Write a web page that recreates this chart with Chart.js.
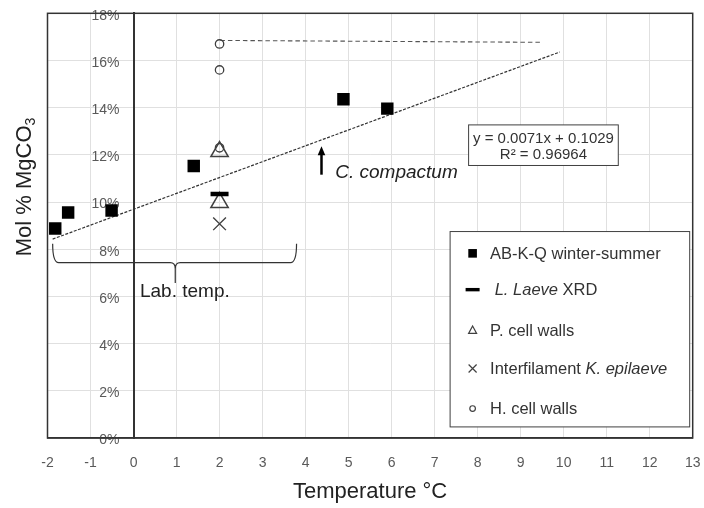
<!DOCTYPE html>
<html>
<head>
<meta charset="utf-8">
<script src="https://cdn.jsdelivr.net/npm/chart.js@4.4.1/dist/chart.umd.min.js"></script>
<style>
  html, body { margin: 0; padding: 0; background: #fff; }
</style>
</head>
<body>
<canvas id="chart" width="704" height="508"></canvas>
<script>
const FONT = '"Liberation Sans", Arial, sans-serif';

// tick values along both axes
const xTickValues = [-2, -1, 0, 1, 2, 3, 4, 5, 6, 7, 8, 9, 10, 11, 12, 13];
const yTickValues = [0, 2, 4, 6, 8, 10, 12, 14, 16, 18];
const yTickLabels = ['0%', '2%', '4%', '6%', '8%', '10%', '12%', '14%', '16%', '18%'];

// AB-K-Q winter-summer (temperature °C, mol % MgCO3)
const abkqTemp = [-1.82, -1.52, -0.51, 1.4, 4.88, 5.9];
const abkqMg = [8.88, 9.56, 9.64, 11.53, 14.36, 13.96];

// L. Laeve XRD
const laeveTemp = [2];
const laeveMg = [10.34];

// P. cell walls
const pWallTemp = [2, 2];
const pWallMg = [12.14, 9.98];

// Interfilament K. epilaeve
const interTemp = [2];
const interMg = [9.08];

// H. cell walls
const hWallTemp = [2, 2, 2];
const hWallMg = [16.7, 15.6, 12.3];

// linear trendline as drawn, and dashed guide from the top H. cell wall value
const trendTemp = [-1.88, 9.91];
const trendMg = [8.43, 16.36];
const guideTemp = [2.02, 9.48];
const guideMg = [16.85, 16.77];

const toPoints = (xs, ys) => xs.map((x, i) => ({ x, y: ys[i] }));

function marker(ctx, style, x, y) {
  ctx.save();
  ctx.beginPath();
  if (style === 'rect') {
    ctx.fillStyle = '#000';
    ctx.fillRect(x - 4.3, y - 4.3, 8.6, 8.6);
  } else if (style === 'line') {
    ctx.fillStyle = '#000';
    ctx.fillRect(x - 7, y - 1.7, 14, 3.4);
  } else if (style === 'triangle') {
    ctx.strokeStyle = '#404040';
    ctx.lineWidth = 1.2;
    ctx.moveTo(x, y - 4.5);
    ctx.lineTo(x + 4, y + 2.8);
    ctx.lineTo(x - 4, y + 2.8);
    ctx.closePath();
    ctx.stroke();
  } else if (style === 'crossRot') {
    ctx.strokeStyle = '#404040';
    ctx.lineWidth = 1.2;
    ctx.moveTo(x - 4, y - 4); ctx.lineTo(x + 4, y + 4);
    ctx.moveTo(x + 4, y - 4); ctx.lineTo(x - 4, y + 4);
    ctx.stroke();
  } else {
    ctx.strokeStyle = '#404040';
    ctx.lineWidth = 1.2;
    ctx.arc(x, y, 2.8, 0, Math.PI * 2);
    ctx.stroke();
  }
  ctx.restore();
}

// each legend row: marker, then text pieces [text, italic]
const legendRows = [
  ['rect', [['AB-K-Q winter-summer', false]]],
  ['line', [[' ', false], ['L. Laeve', true], [' XRD', false]]],
  ['triangle', [['P. cell walls', false]]],
  ['crossRot', [['Interfilament ', false], ['K. epilaeve', true]]],
  ['circle', [['H. cell walls', false]]]
];
const legendRowY = [22.8, 59.1, 100, 138, 178];

const overlay = {
  id: 'overlay',
  afterDraw(chart) {
    const { ctx, chartArea: a, scales: { x, y } } = chart;
    ctx.save();

    // plot frame
    ctx.strokeStyle = '#333';
    ctx.lineWidth = 1.5;
    ctx.strokeRect(a.left, a.top, a.right - a.left, a.bottom - a.top);

    // y axis title with subscript
    ctx.save();
    ctx.translate(25, 187);
    ctx.rotate(-Math.PI / 2);
    ctx.fillStyle = '#222';
    ctx.textBaseline = 'middle';
    ctx.font = '22px ' + FONT;
    const main = 'Mol % MgCO';
    const wMain = ctx.measureText(main).width;
    ctx.font = '14px ' + FONT;
    const wSub = ctx.measureText('3').width;
    const x0 = -(wMain + wSub) / 2;
    ctx.font = '22px ' + FONT;
    ctx.fillText(main, x0, 0);
    ctx.font = '14px ' + FONT;
    ctx.fillText('3', x0 + wMain, 6);
    ctx.restore();

    // trendline equation box
    const bx1 = x.getPixelForValue(7.79), bx2 = x.getPixelForValue(11.27);
    const by1 = y.getPixelForValue(13.27), by2 = y.getPixelForValue(11.55);
    ctx.fillStyle = '#fff';
    ctx.fillRect(bx1, by1, bx2 - bx1, by2 - by1);
    ctx.strokeStyle = '#404040';
    ctx.lineWidth = 1;
    ctx.strokeRect(bx1, by1, bx2 - bx1, by2 - by1);
    ctx.fillStyle = '#333';
    ctx.font = '15px ' + FONT;
    ctx.textAlign = 'center';
    ctx.textBaseline = 'middle';
    ctx.fillText('y = 0.0071x + 0.1029', (bx1 + bx2) / 2, by1 + 13.5);
    ctx.fillText('R\u00b2 = 0.96964', (bx1 + bx2) / 2, by1 + 30);

    // arrow and C. compactum label
    const ax = x.getPixelForValue(4.37);
    const aTip = y.getPixelForValue(12.36), aEnd = y.getPixelForValue(11.16);
    ctx.strokeStyle = '#000';
    ctx.lineWidth = 2.5;
    ctx.beginPath();
    ctx.moveTo(ax, aEnd);
    ctx.lineTo(ax, aTip + 6);
    ctx.stroke();
    ctx.fillStyle = '#000';
    ctx.beginPath();
    ctx.moveTo(ax, aTip);
    ctx.lineTo(ax + 3.8, aTip + 9);
    ctx.lineTo(ax - 3.8, aTip + 9);
    ctx.closePath();
    ctx.fill();
    ctx.fillStyle = '#222';
    ctx.font = 'italic 19px ' + FONT;
    ctx.textAlign = 'left';
    ctx.textBaseline = 'alphabetic';
    ctx.fillText('C. compactum', x.getPixelForValue(4.69), y.getPixelForValue(11.01));

    // brace over the lab temperature range
    const L = x.getPixelForValue(-1.88), R = x.getPixelForValue(3.79), M = x.getPixelForValue(0.97);
    const top = y.getPixelForValue(8.23), mid = y.getPixelForValue(7.43), tip = y.getPixelForValue(6.57);
    ctx.strokeStyle = '#333';
    ctx.lineWidth = 1.2;
    ctx.beginPath();
    ctx.moveTo(L, top);
    ctx.quadraticCurveTo(L, mid, L + 6, mid);
    ctx.lineTo(M - 5, mid);
    ctx.quadraticCurveTo(M, mid, M, mid + 6);
    ctx.lineTo(M, tip);
    ctx.moveTo(M, mid + 6);
    ctx.quadraticCurveTo(M, mid, M + 5, mid);
    ctx.lineTo(R - 6, mid);
    ctx.quadraticCurveTo(R, mid, R, top);
    ctx.stroke();
    ctx.fillStyle = '#222';
    ctx.font = '19px ' + FONT;
    ctx.textBaseline = 'middle';
    ctx.fillText('Lab. temp.', x.getPixelForValue(0.15), y.getPixelForValue(6.21));

    // legend
    const lx1 = x.getPixelForValue(7.36), lx2 = x.getPixelForValue(12.93);
    const ly1 = y.getPixelForValue(8.75), ly2 = y.getPixelForValue(0.47);
    ctx.fillStyle = '#fff';
    ctx.fillRect(lx1, ly1, lx2 - lx1, ly2 - ly1);
    ctx.strokeStyle = '#404040';
    ctx.lineWidth = 1;
    ctx.strokeRect(lx1, ly1, lx2 - lx1, ly2 - ly1);
    legendRows.forEach(([style, parts], i) => {
      const ry = ly1 + legendRowY[i];
      marker(ctx, style, lx1 + 22.5, ry - 1);
      let tx = lx1 + 40;
      parts.forEach(([text, italic]) => {
        ctx.font = (italic ? 'italic ' : '') + '16.5px ' + FONT;
        ctx.fillStyle = '#333';
        ctx.textAlign = 'left';
        ctx.textBaseline = 'middle';
        ctx.fillText(text, tx, ry);
        tx += ctx.measureText(text).width;
      });
    });

    ctx.restore();
  }
};

new Chart(document.getElementById('chart'), {
  type: 'scatter',
  data: {
    datasets: [
      {
        label: 'AB-K-Q winter-summer',
        data: toPoints(abkqTemp, abkqMg),
        pointStyle: 'rect',
        pointRadius: 8.8,
        backgroundColor: '#000',
        borderColor: '#000',
        borderWidth: 0
      },
      {
        label: 'L. Laeve XRD',
        data: toPoints(laeveTemp, laeveMg),
        pointStyle: 'line',
        pointRadius: 9,
        borderColor: '#000',
        borderWidth: 4.5
      },
      {
        label: 'P. cell walls',
        data: toPoints(pWallTemp, pWallMg),
        pointStyle: 'triangle',
        pointRadius: 10,
        backgroundColor: 'rgba(0,0,0,0)',
        borderColor: '#404040',
        borderWidth: 1.5
      },
      {
        label: 'Interfilament K. epilaeve',
        data: toPoints(interTemp, interMg),
        pointStyle: 'crossRot',
        pointRadius: 9,
        borderColor: '#404040',
        borderWidth: 1.4
      },
      {
        label: 'H. cell walls',
        data: toPoints(hWallTemp, hWallMg),
        pointStyle: 'circle',
        pointRadius: 4.2,
        backgroundColor: 'rgba(0,0,0,0)',
        borderColor: '#404040',
        borderWidth: 1.3
      },
      {
        type: 'line',
        label: 'trend',
        data: toPoints(trendTemp, trendMg),
        showLine: true,
        pointRadius: 0,
        borderColor: '#333',
        borderWidth: 1.2,
        borderDash: [3, 1.5]
      },
      {
        type: 'line',
        label: 'guide',
        data: toPoints(guideTemp, guideMg),
        showLine: true,
        pointRadius: 0,
        borderColor: '#555',
        borderWidth: 1.1,
        borderDash: [4.5, 3]
      }
    ]
  },
  options: {
    responsive: false,
    animation: false,
    devicePixelRatio: 1,
    layout: { autoPadding: false, padding: { left: 47.5, right: 11.3, top: 13.3, bottom: 0 } },
    plugins: { legend: { display: false }, tooltip: { enabled: false } },
    scales: {
      x: {
        type: 'linear',
        position: 'bottom',
        min: -2,
        max: 13,
        afterBuildTicks: s => { s.ticks = xTickValues.map(v => ({ value: v })); },
        afterFit: s => { s.height = 70; s.paddingLeft = 0; s.paddingRight = 0; },
        grid: { color: '#e0e0e0', lineWidth: 1, drawTicks: false },
        border: { display: true, color: '#333', width: 1.5 },
        ticks: { padding: 17, color: '#595959', font: { family: FONT, size: 14 } },
        title: {
          display: true,
          text: 'Temperature \u00b0C',
          color: '#222',
          font: { family: FONT, size: 22 },
          padding: { top: 0, bottom: 3 }
        }
      },
      y: {
        type: 'linear',
        position: { x: 0 },
        min: 0,
        max: 18,
        afterBuildTicks: s => { s.ticks = yTickValues.map(v => ({ value: v })); },
        afterFit: s => { s.paddingTop = 0; s.paddingBottom = 0; },
        grid: { color: '#e0e0e0', lineWidth: 1, drawTicks: false },
        border: { display: true, color: '#333', width: 2 },
        ticks: {
          padding: 0,
          labelOffset: 2.5,
          color: '#595959',
          font: { family: FONT, size: 14 },
          // labels sit left of the x = 0 axis line, with a small gap
          callback: (v) => yTickLabels[yTickValues.indexOf(v)] + '\u2002\u2002'
        }
      }
    }
  },
  plugins: [overlay]
});
</script>
</body>
</html>
